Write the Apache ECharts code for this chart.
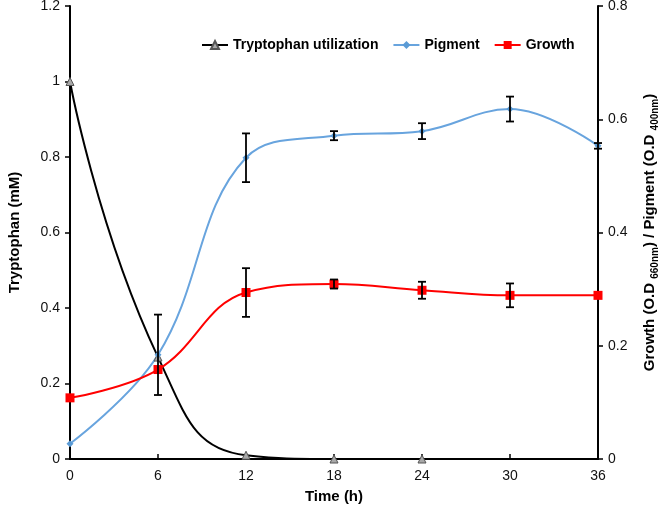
<!DOCTYPE html>
<html>
<head>
<meta charset="utf-8">
<script src="https://cdn.jsdelivr.net/npm/echarts@6/dist/echarts.min.js"></script>
<style>
html, body { margin: 0; padding: 0; background: #fff; }
#chart { width: 662px; height: 512px; }
</style>
</head>
<body>
<div id="chart"></div>
<script>
// time points (h)
var hours = [0, 6, 12, 18, 24, 30, 36];
// tryptophan left axis (mM), not measured after 24 h
var tryptophan = [1, 0.27, 0.01, 0, 0, null, null];
// pigment and growth, right axis (O.D)
var pigment = [0.027, 0.184, 0.532, 0.571, 0.579, 0.618, 0.553];
var pigmentErr = [0, 0.071, 0.043, 0.008, 0.014, 0.022, 0.005];
var growth = [0.108, 0.158, 0.294, 0.309, 0.298, 0.289, 0.289];
var growthErr = [0, 0, 0.043, 0.008, 0.015, 0.021, 0];

var font = 'Liberation Sans, Arial, sans-serif';

function pairs(ys) {
    var out = [];
    for (var i = 0; i < hours.length; i++) {
        if (ys[i] != null) out.push([hours[i], ys[i]]);
    }
    return out;
}

var errData = [];
for (var i = 0; i < hours.length; i++) {
    if (pigmentErr[i] > 0) errData.push([hours[i], pigment[i] - pigmentErr[i], pigment[i] + pigmentErr[i]]);
    if (growthErr[i] > 0) errData.push([hours[i], growth[i] - growthErr[i], growth[i] + growthErr[i]]);
}

function renderErr(params, api) {
    var lo = api.coord([api.value(0), api.value(1)]);
    var hi = api.coord([api.value(0), api.value(2)]);
    var w = 4;
    var st = { stroke: '#000', lineWidth: 1.8 };
    return {
        type: 'group',
        children: [
            { type: 'line', shape: { x1: lo[0], y1: lo[1], x2: hi[0], y2: hi[1] }, style: st },
            { type: 'line', shape: { x1: lo[0] - w, y1: lo[1], x2: lo[0] + w, y2: lo[1] }, style: st },
            { type: 'line', shape: { x1: hi[0] - w, y1: hi[1], x2: hi[0] + w, y2: hi[1] }, style: st }
        ]
    };
}

var chart = echarts.init(document.getElementById('chart'));
var option = {
    animation: false,
    textStyle: { fontFamily: font },
    grid: { left: 70, right: 64, top: 6, bottom: 53, outerBoundsMode: 'none', containLabel: false },
    legend: {
        top: 33,
        left: 196,
        itemWidth: 26,
        itemHeight: 10,
        itemGap: 14,
        textStyle: { fontFamily: font, fontWeight: 'bold', fontSize: 14, color: '#000' },
        data: ['Tryptophan utilization', 'Pigment', 'Growth']
    },
    xAxis: {
        type: 'value',
        min: 0, max: 36, interval: 6,
        name: 'Time (h)',
        nameLocation: 'middle',
        nameGap: 30,
        nameTextStyle: { fontFamily: font, fontWeight: 'bold', fontSize: 15, color: '#000' },
        axisLine: { lineStyle: { color: '#000', width: 2 } },
        axisTick: { inside: true, length: 5, lineStyle: { color: '#000', width: 1.5 } },
        axisLabel: { fontSize: 14, color: '#111', margin: 10 },
        splitLine: { show: false }
    },
    yAxis: [{
        type: 'value',
        min: 0, max: 1.2, interval: 0.2,
        name: 'Tryptophan (mM)',
        nameLocation: 'middle',
        nameGap: 48,
        nameTextStyle: { fontFamily: font, fontWeight: 'bold', fontSize: 15, color: '#000' },
        axisLine: { show: true, lineStyle: { color: '#000', width: 2 } },
        axisTick: { show: true, length: 5, lineStyle: { color: '#000', width: 1.5 } },
        axisLabel: { fontSize: 14, color: '#111', margin: 10 },
        splitLine: { show: false }
    }, {
        type: 'value',
        min: 0, max: 0.8, interval: 0.2,
        position: 'right',
        name: '{b|Growth (O.D }{s|660nm}{b|) / Pigment (O.D }{s|400nm}{b|)}',
        nameLocation: 'middle',
        nameGap: 41,
        nameTextStyle: {
            rich: {
                b: { fontFamily: font, fontWeight: 'bold', fontSize: 15, color: '#000', verticalAlign: 'bottom', lineHeight: 18 },
                s: { fontFamily: font, fontWeight: 'bold', fontSize: 10, color: '#000', verticalAlign: 'bottom', lineHeight: 12, padding: [0, 0, -3, 0] }
            }
        },
        axisLine: { show: true, lineStyle: { color: '#000', width: 2 } },
        axisTick: { show: true, length: 5, lineStyle: { color: '#000', width: 1.5 } },
        axisLabel: { fontSize: 14, color: '#111', margin: 10 },
        splitLine: { show: false }
    }],
    series: [{
        name: 'Tryptophan utilization',
        type: 'line',
        yAxisIndex: 0,
        smooth: 0.5,
        clip: true,
        data: pairs(tryptophan),
        symbol: 'triangle',
        symbolSize: 8,
        color: '#000',
        lineStyle: { color: '#000', width: 2 },
        itemStyle: { color: '#a8a8a8', borderColor: '#555', borderWidth: 1 },
        z: 3
    }, {
        name: 'Pigment',
        type: 'line',
        yAxisIndex: 1,
        smooth: 0.4,
        data: pairs(pigment),
        symbol: 'diamond',
        symbolSize: 7,
        color: '#5b9bd5',
        lineStyle: { color: '#68a4de', width: 2 },
        itemStyle: { color: '#5b9bd5', borderWidth: 0 },
        z: 3
    }, {
        name: 'Growth',
        type: 'line',
        yAxisIndex: 1,
        smooth: 0.4,
        data: pairs(growth),
        symbol: 'rect',
        symbolSize: 9,
        color: '#ff0000',
        lineStyle: { color: '#ff0000', width: 2 },
        itemStyle: { color: '#ff0000', borderWidth: 0 },
        z: 4
    }, {
        name: 'err',
        type: 'custom',
        yAxisIndex: 1,
        renderItem: renderErr,
        data: errData,
        z: 5,
        silent: true
    }]
};
chart.setOption(option);
</script>
</body>
</html>
